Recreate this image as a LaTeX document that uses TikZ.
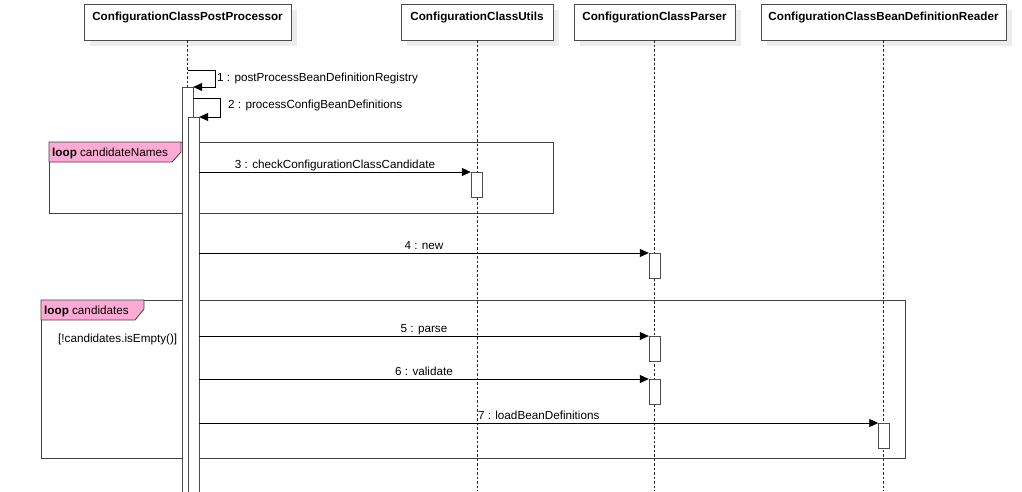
\documentclass[tikz,border=0pt]{standalone}
\usepackage{fontspec}
\setmainfont{Liberation Sans}
\usetikzlibrary{arrows.meta,shadows}
\definecolor{looppink}{RGB}{255,170,213}
\definecolor{shadowgray}{RGB}{236,236,236}

\begin{document}
\begin{tikzpicture}[x=1pt,y=-1pt,
        font=\fontsize{11.7}{13}\selectfont,
        headbox/.style={draw=black!70, fill=white, minimum height=36pt, inner sep=0pt,
            general shadow={fill=shadowgray, shadow xshift=6pt, shadow yshift=-6pt}},
        lifeline/.style={draw=black!85, line width=0.8pt, dash pattern=on 2.5pt off 2pt},
        actbar/.style={draw=black!70, fill=white, minimum width=11pt, inner sep=0pt, anchor=north},
        msg/.style={draw=black, line width=0.8pt, -{Triangle[length=9pt,width=8pt]}},
        frame/.style={draw=black!75, line width=0.8pt}]
        \useasboundingbox (0,0) rectangle (1022,491);

        % Draw the loop frames
        \draw[frame] (49,142) rectangle (553,213);
        \draw[frame, fill=looppink] (49,142) -- (181,142) -- (181,152) -- (172,162) -- (49,162) -- cycle;
        \node[anchor=base west, inner sep=0pt] (loopa) at (52,156) {\textbf{loop} candidateNames};

        \draw[frame] (41,300) rectangle (905,458);
        \draw[frame, fill=looppink] (41,300) -- (144,300) -- (144,309) -- (135,320) -- (41,320) -- cycle;
        \node[anchor=base west, inner sep=0pt] (loopb) at (44,314) {\textbf{loop} candidates};
        \node[anchor=base west, inner sep=0pt] (guard) at (58,342) {[!candidates.isEmpty()]};

        % Heads of the lifelines
        \node[headbox, minimum width=207pt] (pp) at (187.5,22) {};
        \node[headbox, minimum width=152pt] (ut) at (477,22) {};
        \node[headbox, minimum width=161pt] (pa) at (654.5,22) {};
        \node[headbox, minimum width=245pt] (rd) at (883.5,22) {};
        \node[anchor=base] (ppt) at (187.5,20) {\textbf{ConfigurationClassPostProcessor}};
        \node[anchor=base] (utt) at (477,20) {\textbf{ConfigurationClassUtils}};
        \node[anchor=base] (pat) at (654.5,20) {\textbf{ConfigurationClassParser}};
        \node[anchor=base] (rdt) at (883.5,20) {\textbf{ConfigurationClassBeanDefinitionReader}};

        % Lifelines
        \draw[lifeline] (pp.south) -- (pp.south |- 0,491);
        \draw[lifeline] (ut.south) -- (ut.south |- 0,491);
        \draw[lifeline] (pa.south) -- (pa.south |- 0,491);
        \draw[lifeline] (rd.south) -- (rd.south |- 0,491);

        % Activation bars
        \node[actbar, minimum height=420pt] (a1) at (187.5,87) {};
        \node[actbar, minimum height=390pt] (a2) at (193.5,117) {};
        \node[actbar, minimum height=25pt] (a3) at (476.5,172) {};
        \node[actbar, minimum height=25pt] (a4) at (654.5,253) {};
        \node[actbar, minimum height=25pt] (a5) at (654.5,336) {};
        \node[actbar, minimum height=25pt] (a6) at (654.5,379) {};
        \node[actbar, minimum height=25pt] (a7) at (884,423) {};

        % Messages
        %1
        \coordinate (s1) at (188,70);
        \draw[msg] (s1) -- ++(27,0) |- (a1.north east);
        \node[anchor=base west, inner sep=0pt] (l1) at (217,81) {1 : postProcessBeanDefinitionRegistry};
        %2
        \draw[msg] (a1.east |- 0,98) -- ++(27,0) |- (a2.north east);
        \node[anchor=base west, inner sep=0pt] (l2) at (228,108) {2 : processConfigBeanDefinitions};
        %3
        \draw[msg] (a2.east |- a3.north) -- (a3.north west)
            node[midway, anchor=base, yshift=4pt, inner sep=0pt] (l3) {3 : checkConfigurationClassCandidate};
        %4
        \draw[msg] (a2.east |- a4.north) -- (a4.north west)
            node[midway, anchor=base, yshift=4pt, inner sep=0pt] (l4) {4 : new};
        %5
        \draw[msg] (a2.east |- a5.north) -- (a5.north west)
            node[midway, anchor=base, yshift=4pt, inner sep=0pt] (l5) {5 : parse};
        %6
        \draw[msg] (a2.east |- a6.north) -- (a6.north west)
            node[midway, anchor=base, yshift=4pt, inner sep=0pt] (l6) {6 : validate};
        %7
        \draw[msg] (a2.east |- a7.north) -- (a7.north west)
            node[midway, anchor=base, yshift=4pt, inner sep=0pt] (l7) {7 : loadBeanDefinitions};
\end{tikzpicture}
\end{document}
